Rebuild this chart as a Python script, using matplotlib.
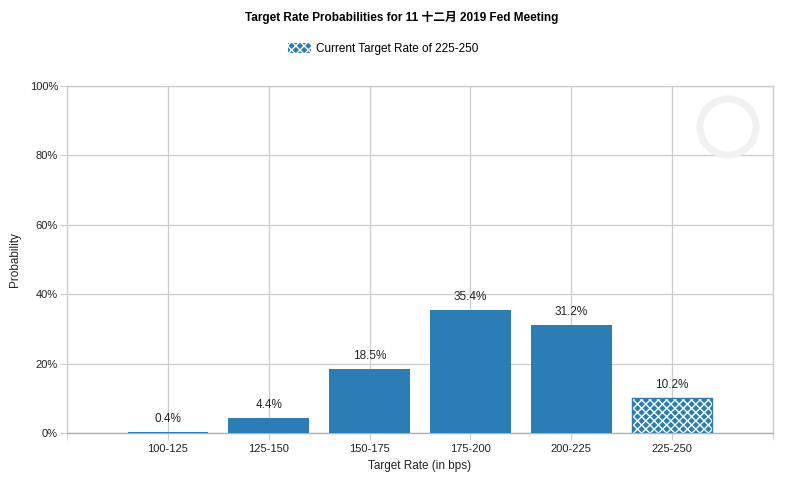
import numpy as np
import matplotlib.pyplot as plt
from matplotlib.patches import Patch, Ellipse

# data
ranges = ["100-125", "125-150", "150-175", "175-200", "200-225", "225-250"]
probs = [0.4, 4.4, 18.5, 35.4, 31.2, 10.2]
current = "225-250"

blue = "#2a7db5"
grid = "#cccccc"
narrow = ["Liberation Sans Narrow", "Liberation Sans", "Noto Sans CJK SC", "DejaVu Sans"]
plt.rcParams['font.family'] = ["Liberation Sans", "Noto Sans CJK SC", "DejaVu Sans"]

fig = plt.figure(figsize=(8.04, 4.82), dpi=100)
ax = fig.add_axes([67 / 804, 1 - 433 / 482, 706 / 804, 347 / 482])

x = np.arange(len(ranges))
for i, (r, p) in enumerate(zip(ranges, probs)):
    if r == current:
        ax.bar(i, p, 0.8, color=blue, edgecolor="white", hatch="xxxx", lw=0, zorder=3)
        ax.bar(i, p, 0.8, fill=False, edgecolor=blue, lw=1, zorder=4)
    else:
        ax.bar(i, p, 0.8, color=blue, lw=0, zorder=3)
    ax.annotate(f"{p:.1f}%", (i, p), xytext=(0, 5), textcoords="offset points",
                ha="center", va="bottom", fontsize=8.5, color="#222222")

ax.set_xlim(-1, 6)
ax.set_ylim(0, 100)
ax.set_xticks(x)
ax.set_xticklabels(ranges, fontsize=8, color="#222222")
ax.set_xticks([-1, 6], minor=True)
ax.set_yticks(np.arange(0, 101, 20))
ax.set_yticklabels([f"{v}%" for v in range(0, 101, 20)], fontsize=8, color="#222222")
ax.tick_params(axis="both", which="both", length=5, color=grid, pad=1.5)
ax.tick_params(axis="x", which="major", pad=3)
ax.grid(True, color=grid, lw=0.9, zorder=0)
ax.set_axisbelow(True)
for s in ax.spines.values():
    s.set_color(grid)
    s.set_linewidth(1)
ax.spines["bottom"].set_color("#b0b0b0")

ax.set_xlabel("Target Rate (in bps)", fontsize=8.5, color="#222222", labelpad=4)
ax.set_ylabel("Probability", fontsize=8.5, color="#222222", labelpad=6)

# faint watermark ring (top right)
ring = Ellipse(((728 - 67) / 706, (433 - 127) / 347), 56 / 706, 56 / 347,
               transform=ax.transAxes, fill=False, edgecolor="#f0f1f3", lw=5, zorder=1)
ax.add_patch(ring)

fig.text(402 / 804, 1 - 17 / 482, "Target Rate Probabilities for 11 十二月 2019 Fed Meeting",
         ha="center", va="center", fontsize=8.5, fontweight="bold", family=narrow)

handle = Patch(facecolor=blue, edgecolor="white", hatch="xxxx", lw=0)
fig.legend([handle], ["Current Target Rate of 225-250"], loc="center",
           bbox_to_anchor=(383 / 804, 1 - 49 / 482), frameon=False,
           prop={"family": narrow, "size": 8.5}, handlelength=2.0, handleheight=0.9,
           handletextpad=0.4)

fig.savefig("out.png", dpi=100)
